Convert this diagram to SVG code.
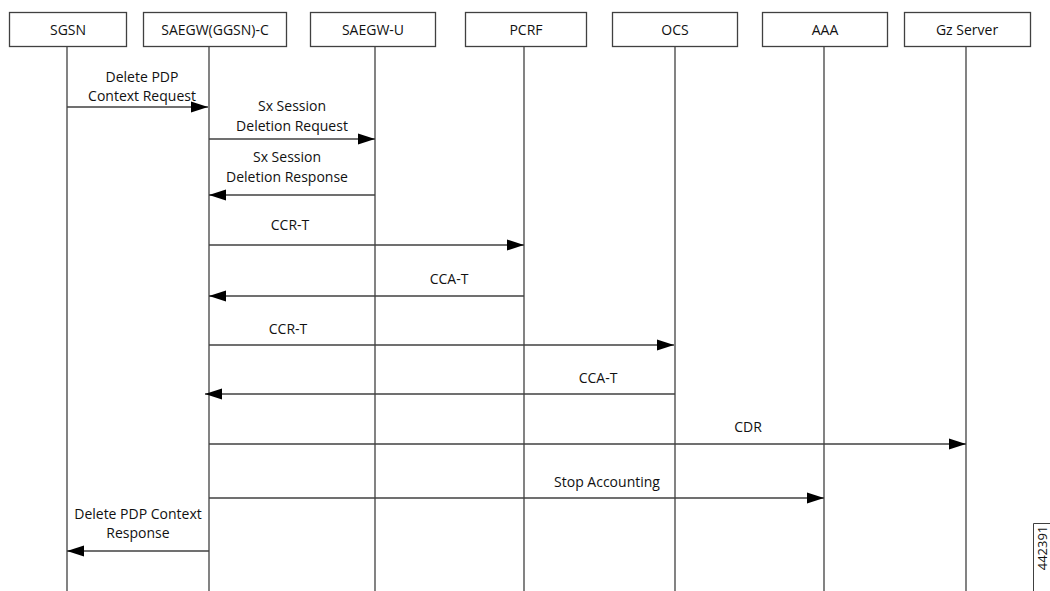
<svg xmlns="http://www.w3.org/2000/svg" width="1050" height="591" viewBox="0 0 1050 591">
<style>
.box{fill:#fff;stroke:#404040;stroke-width:1.3}
.life{stroke:#404040;stroke-width:1.3;fill:none}
.msg{stroke:#404040;stroke-width:1.3;fill:none;marker-end:url(#ah)}
text{font-family:"Open Sans","Liberation Sans",sans-serif;font-size:14px;fill:#111;text-anchor:middle}
</style>
<defs>
<marker id="ah" markerUnits="userSpaceOnUse" markerWidth="18" markerHeight="12" refX="17" refY="6" orient="auto">
<path d="M0,0.5 L17,6 L0,11.5 Z" fill="#000"/>
</marker>
</defs>
<rect width="1050" height="591" fill="#fff"/>
<g id="node-sgsn"><rect class="box" x="9.5" y="12.5" width="117" height="34"/><text x="68" y="34.5">SGSN</text><line class="life" x1="67" y1="46.5" x2="67" y2="591"/></g>
<g id="node-saegw-c"><rect class="box" x="143.5" y="12.5" width="143" height="34"/><text x="215" y="34.5">SAEGW(GGSN)-C</text><line class="life" x1="209" y1="46.5" x2="209" y2="591"/></g>
<g id="node-saegw-u"><rect class="box" x="310.5" y="12.5" width="125" height="34"/><text x="373" y="34.5">SAEGW-U</text><line class="life" x1="375" y1="46.5" x2="375" y2="591"/></g>
<g id="node-pcrf"><rect class="box" x="465.5" y="12.5" width="121" height="34"/><text x="526" y="34.5">PCRF</text><line class="life" x1="524" y1="46.5" x2="524" y2="591"/></g>
<g id="node-ocs"><rect class="box" x="612.5" y="12.5" width="125" height="34"/><text x="675" y="34.5">OCS</text><line class="life" x1="675" y1="46.5" x2="675" y2="591"/></g>
<g id="node-aaa"><rect class="box" x="762.5" y="12.5" width="125" height="34"/><text x="825" y="34.5">AAA</text><line class="life" x1="824" y1="46.5" x2="824" y2="591"/></g>
<g id="node-gz"><rect class="box" x="904.5" y="12.5" width="126" height="34"/><text x="967" y="34.5">Gz Server</text><line class="life" x1="966" y1="46.5" x2="966" y2="591"/></g>
<g id="connectors">
<line class="msg" x1="67" y1="107" x2="208" y2="107"/>
<line class="msg" x1="209" y1="139" x2="375" y2="139"/>
<line class="msg" x1="375" y1="195" x2="209" y2="195"/>
<line class="msg" x1="209" y1="245" x2="524" y2="245"/>
<line class="msg" x1="524" y1="296" x2="209" y2="296"/>
<line class="msg" x1="209" y1="345" x2="674" y2="345"/>
<line class="msg" x1="675" y1="394" x2="205" y2="394"/>
<line class="msg" x1="209" y1="444" x2="966" y2="444"/>
<line class="msg" x1="209" y1="498" x2="824" y2="498"/>
<line class="msg" x1="209" y1="551" x2="67" y2="551"/>
</g>
<g id="labels">
<text x="142" y="82">Delete PDP</text>
<text x="142" y="101">Context Request</text>
<text x="292" y="111">Sx Session</text>
<text x="292" y="131">Deletion Request</text>
<text x="287" y="162">Sx Session</text>
<text x="287" y="182">Deletion Response</text>
<text x="290" y="230">CCR-T</text>
<text x="449" y="284">CCA-T</text>
<text x="288" y="334">CCR-T</text>
<text x="598" y="383">CCA-T</text>
<text x="748" y="432">CDR</text>
<text x="607" y="487">Stop Accounting</text>
<text x="138" y="519">Delete PDP Context</text>
<text x="138" y="538">Response</text>
</g>
<g id="figure-id">
<path d="M1033.5,591 V523.5 H1050" fill="none" stroke="#404040" stroke-width="1"/>
<text x="0" y="0" transform="translate(1046.5,548) rotate(-90)" style="font-size:13px">442391</text>
</g>
</svg>
